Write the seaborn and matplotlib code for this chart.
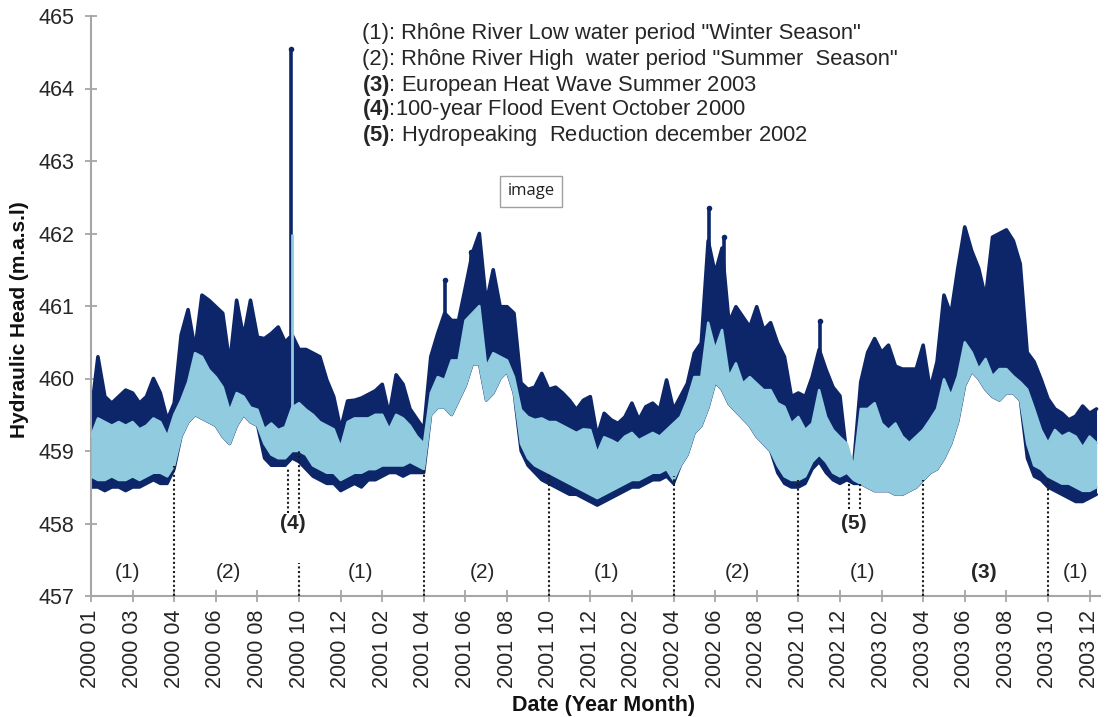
import numpy as np
import pandas as pd
import matplotlib
matplotlib.use("Agg")
import matplotlib.pyplot as plt
import seaborn as sns

# ---------------- data ----------------
start_date = "2000-01-01"
sample_step_days = 10          # envelope sampled every 10 days

# upper envelope of the dark (navy) series
dark_hi = [459.5, 460.3, 459.75, 459.66, 459.75, 459.84, 459.8, 459.66, 459.75, 460.0,
           459.8, 459.43, 459.66, 460.6, 460.95, 460.4, 461.15, 461.08, 460.99, 460.9,
           460.2, 461.08, 460.57, 461.08, 460.57, 460.55, 460.62, 460.71, 460.5, 460.6,
           460.4, 460.4, 460.35, 460.3, 459.98, 459.75, 459.3, 459.69, 459.7, 459.73,
           459.78, 459.83, 459.92, 459.5, 460.05, 459.92, 459.58, 459.44, 459.3, 460.3,
           460.62, 460.9, 460.8, 460.8, 461.26, 461.73, 462.0, 461.04, 461.5, 460.99,
           460.99, 460.9, 459.94, 459.85, 459.88, 460.07, 459.85, 459.88, 459.8, 459.7,
           459.57, 459.7, 459.75, 459.2, 459.52, 459.43, 459.38, 459.47, 459.66, 459.43,
           459.61, 459.66, 459.57, 459.98, 459.57, 459.75, 459.93, 460.35, 460.49, 461.9,
           461.45, 461.8, 460.77, 460.99, 460.85, 460.71, 460.99, 460.67, 460.77, 460.49,
           460.3, 459.75, 459.8, 459.75, 460.02, 460.4, 460.12, 459.88, 459.76, 458.92,
           458.83, 459.95, 460.36, 460.55, 460.36, 460.46, 460.17, 460.13, 460.13, 460.13,
           460.46, 459.85, 460.23, 461.15, 460.88, 461.52, 462.09, 461.76, 461.52, 461.11,
           461.95, 462.0, 462.05, 461.9, 461.58, 460.36, 460.23, 459.99, 459.72, 459.58,
           459.52, 459.43, 459.48, 459.62, 459.52, 459.58]

# lower envelope of the dark (navy) series
dark_lo = [458.5, 458.5, 458.45, 458.5, 458.5, 458.45, 458.5, 458.5, 458.55, 458.6,
           458.55, 458.55, 458.75, 459.2, 459.4, 459.5, 459.45, 459.4, 459.35, 459.2,
           459.1, 459.35, 459.5, 459.4, 459.35, 458.9, 458.8, 458.8, 458.8, 458.9,
           458.85, 458.75, 458.65, 458.6, 458.55, 458.55, 458.45, 458.5, 458.55, 458.5,
           458.6, 458.6, 458.65, 458.7, 458.7, 458.65, 458.7, 458.7, 458.7, 459.5,
           459.6, 459.6, 459.5, 459.7, 459.9, 460.2, 460.2, 459.7, 459.8, 460.0,
           460.1, 459.8, 459.0, 458.8, 458.7, 458.6, 458.55, 458.5, 458.45, 458.4,
           458.4, 458.35, 458.3, 458.25, 458.3, 458.35, 458.4, 458.45, 458.5, 458.5,
           458.55, 458.6, 458.6, 458.65, 458.55, 458.8, 458.95, 459.25, 459.35, 459.6,
           459.95, 459.85, 459.65, 459.55, 459.45, 459.35, 459.2, 459.1, 459.0, 458.7,
           458.55, 458.5, 458.5, 458.55, 458.75, 458.85, 458.7, 458.6, 458.55, 458.6,
           458.55, 458.55, 458.5, 458.45, 458.45, 458.45, 458.4, 458.4, 458.45, 458.5,
           458.6, 458.7, 458.75, 458.9, 459.1, 459.4, 459.9, 460.1, 460.0, 459.85,
           459.75, 459.7, 459.8, 459.8, 459.7, 458.9, 458.65, 458.6, 458.5, 458.45,
           458.4, 458.35, 458.3, 458.3, 458.35, 458.4]

# upper envelope of the light-blue series
light_hi = [459.2, 459.45, 459.4, 459.35, 459.4, 459.35, 459.4, 459.3, 459.35, 459.45,
            459.4, 459.2, 459.5, 459.7, 459.95, 460.35, 460.3, 460.12, 460.02, 459.88,
            459.55, 459.8, 459.75, 459.6, 459.57, 459.3, 459.38, 459.29, 459.33, 459.6,
            459.66, 459.57, 459.5, 459.4, 459.35, 459.3, 459.05, 459.4, 459.45, 459.45,
            459.45, 459.5, 459.5, 459.3, 459.5, 459.45, 459.35, 459.2, 459.1, 459.8,
            460.02, 459.98, 460.25, 460.25, 460.8, 460.9, 461.0, 460.16, 460.35, 460.3,
            460.25, 460.02, 459.57, 459.47, 459.43, 459.45, 459.4, 459.4, 459.35, 459.3,
            459.25, 459.3, 459.29, 458.97, 459.19, 459.15, 459.1, 459.2, 459.25, 459.15,
            459.2, 459.25, 459.2, 459.29, 459.38, 459.47, 459.7, 460.02, 460.02, 460.77,
            460.4, 460.67, 460.02, 460.21, 459.93, 460.02, 459.93, 459.84, 459.84, 459.66,
            459.61, 459.38, 459.47, 459.29, 459.38, 459.84, 459.47, 459.29, 459.19, 459.1,
            458.78, 459.58, 459.58, 459.66, 459.38, 459.29, 459.38, 459.2, 459.11, 459.2,
            459.29, 459.43, 459.58, 459.99, 459.76, 460.03, 460.5, 460.36, 460.13, 460.27,
            460.03, 460.13, 460.13, 460.03, 459.95, 459.85, 459.58, 459.29, 459.11, 459.29,
            459.2, 459.25, 459.2, 459.05, 459.2, 459.11]

# lower envelope of the light-blue series
light_lo = [458.65, 458.6, 458.6, 458.65, 458.6, 458.6, 458.65, 458.6, 458.65, 458.7,
            458.7, 458.65, 458.8, 459.2, 459.4, 459.5, 459.45, 459.4, 459.35, 459.2,
            459.1, 459.35, 459.5, 459.4, 459.35, 459.1, 458.95, 458.9, 458.9, 459.0,
            459.0, 458.95, 458.8, 458.75, 458.7, 458.7, 458.6, 458.65, 458.7, 458.7,
            458.75, 458.75, 458.8, 458.8, 458.8, 458.8, 458.85, 458.8, 458.75, 459.5,
            459.6, 459.6, 459.5, 459.7, 459.9, 460.2, 460.2, 459.7, 459.8, 460.0,
            460.1, 459.8, 459.1, 458.9, 458.8, 458.75, 458.7, 458.65, 458.6, 458.55,
            458.5, 458.45, 458.4, 458.35, 458.4, 458.45, 458.5, 458.55, 458.6, 458.6,
            458.65, 458.7, 458.7, 458.75, 458.6, 458.8, 458.95, 459.25, 459.35, 459.6,
            459.95, 459.85, 459.65, 459.55, 459.45, 459.35, 459.2, 459.1, 459.0, 458.8,
            458.65, 458.6, 458.6, 458.65, 458.85, 458.95, 458.85, 458.7, 458.65, 458.7,
            458.6, 458.55, 458.5, 458.45, 458.45, 458.45, 458.4, 458.4, 458.45, 458.5,
            458.6, 458.7, 458.75, 458.9, 459.1, 459.4, 459.9, 460.1, 460.0, 459.85,
            459.75, 459.7, 459.8, 459.8, 459.7, 459.1, 458.8, 458.75, 458.65, 458.6,
            458.55, 458.55, 458.5, 458.45, 458.45, 458.5]

# narrow peaks of the dark series (day offset from start, top value)
peak_days = [289, 511, 548, 556, 891, 913, 1051]
peak_tops = [464.55, 461.36, 461.75, 461.85, 462.35, 461.95, 460.8]
peak_bases = [460.6, 460.9, 461.2, 461.5, 461.6, 461.4, 460.3]
# narrow peak of the light series (flood)
light_peak_days = [290]
light_peak_tops = [462.0]
light_peak_bases = [459.6]

# x tick labels (ticks every 60 days)
tick_step_days = 60
tick_labels = ["2000 01", "2000 03", "2000 04", "2000 06", "2000 08", "2000 10",
               "2000 12", "2001 02", "2001 04", "2001 06", "2001 08", "2001 10",
               "2001 12", "2002 02", "2002 04", "2002 06", "2002 08", "2002 10",
               "2002 12", "2003 02", "2003 04", "2003 06", "2003 08", "2003 10",
               "2003 12"]

# period labels
period_texts = ["(1)", "(2)", "(1)", "(2)", "(1)", "(2)", "(1)", "(3)", "(1)"]
period_days = [53, 198, 388, 564, 744, 932, 1112, 1288, 1419]
period_bold = [False, False, False, False, False, False, False, True, False]
event_texts = ["(4)", "(5)"]
event_days = [291, 1100]

# dotted separators: (day, bottom, top)
sep_days = [120, 284, 300, 300, 480, 660, 840, 1020, 1093, 1109, 1200, 1380]
sep_bottoms = [457.0, 458.15, 458.15, 457.0, 457.0, 457.0, 457.0, 457.0, 458.2, 458.2, 457.0, 457.0]
sep_tops = [458.8, 458.75, 459.0, 457.45, 458.75, 458.7, 458.65, 458.6, 458.55, 458.55, 458.6, 458.6]

legend_lines = [
    ("", '(1): Rhône River Low water period "Winter Season"'),
    ("", '(2): Rhône River High  water period "Summer  Season"'),
    ("(3)", ": European Heat Wave Summer 2003"),
    ("(4)", ":100-year Flood Event October 2000"),
    ("(5)", ": Hydropeaking  Reduction december 2002"),
]

# ---------------- styling ----------------
sns.set_theme(style="white")
plt.rcParams["font.family"] = ["Liberation Sans", "DejaVu Sans"]
plt.rcParams["mathtext.fontset"] = "custom"
plt.rcParams["mathtext.rm"] = "Liberation Sans"
plt.rcParams["mathtext.bf"] = "Liberation Sans:bold"

DARK = "#0c2669"
LIGHT = "#90cbdf"
AXC = "#a6a6a6"
TXT = "#262626"

days = np.arange(len(dark_hi)) * sample_step_days
df = pd.DataFrame({"day": days, "dark_hi": dark_hi, "dark_lo": dark_lo,
                   "light_hi": light_hi, "light_lo": light_lo})

W, H = 1105, 717
fig = plt.figure(figsize=(W / 100, H / 100), dpi=100)
ax = fig.add_axes([91 / W, 1 - 596 / H, 1009 / W, 580 / H])

# dark band
ax.fill_between(df["day"], df["dark_lo"], df["dark_hi"], color=DARK, lw=0, zorder=2)
sns.lineplot(data=df, x="day", y="dark_hi", color=DARK, lw=2.6, ax=ax, zorder=2)
sns.lineplot(data=df, x="day", y="dark_lo", color=DARK, lw=2.2, ax=ax, zorder=2)
ax.vlines(peak_days, peak_bases, peak_tops, color=DARK, lw=2.6, zorder=2)
sns.scatterplot(x=peak_days, y=peak_tops, color=DARK, s=16, lw=0, ax=ax, zorder=2)

# light band
ax.fill_between(df["day"], df["light_lo"], df["light_hi"], color=LIGHT, lw=0, zorder=3)
sns.lineplot(data=df, x="day", y="light_hi", color=LIGHT, lw=1.8, ax=ax, zorder=3)
sns.lineplot(data=df, x="day", y="light_lo", color=LIGHT, lw=1.8, ax=ax, zorder=3)
ax.vlines(light_peak_days, light_peak_bases, light_peak_tops, color=LIGHT, lw=2, zorder=3)

# dotted separators
ax.vlines(sep_days, sep_bottoms, sep_tops, color="#1a1a1a", lw=1.5,
          linestyles=(0, (1, 1.2)), zorder=4)

# period labels
for t, d, b in zip(period_texts, period_days, period_bold):
    ax.text(d, 457.32, t, ha="center", va="center", fontsize=15,
            fontweight="bold" if b else "normal", color=TXT, zorder=5)
for t, d in zip(event_texts, event_days):
    ax.text(d, 458.0, t, ha="center", va="center", fontsize=15,
            fontweight="bold", color=TXT, zorder=5)

# legend-like text block
ys = [34, 60, 85, 110, 135]
for (b, rest), y in zip(legend_lines, ys):
    s = (r"$\mathbf{" + b + "}$" + rest) if b else rest
    fig.text(362 / W, 1 - y / H, s, ha="left", va="center", fontsize=15.8, color=TXT)

# "image" box
fig.text(531 / W, 1 - 191 / H, "image", ha="center", va="center", fontsize=12,
         family=["Open Sans", "DejaVu Sans"], color="#222222",
         bbox=dict(boxstyle="square,pad=0.45", fc="white", ec="#a0a0a0", lw=1))

# axes
ax.set_xlim(0, 1455)
ax.set_ylim(457, 465)
ax.set_yticks(range(457, 466))
ticks = np.arange(len(tick_labels)) * tick_step_days
ax.set_xticks(ticks)
ax.set_xticklabels(tick_labels, rotation=90, fontsize=15.5, color=TXT)
ax.tick_params(axis="y", labelsize=15.5, labelcolor=TXT)
ax.tick_params(axis="both", direction="inout", length=8, width=1.3, color=AXC,
               left=True, bottom=True)
ax.tick_params(axis="y", pad=8)
ax.tick_params(axis="x", pad=6)
for side in ["top", "right"]:
    ax.spines[side].set_visible(False)
for side in ["left", "bottom"]:
    ax.spines[side].set_color(AXC)
    ax.spines[side].set_linewidth(1.5)
ax.set_xlabel("")
ax.set_ylabel("")
ax.grid(False)

fig.text(20 / W, 1 - 320 / H, "Hydraulic Head (m.a.s.l)", rotation=90, ha="center",
         va="center", fontsize=15, fontweight="bold", color="#111111")
fig.text(604 / W, 1 - 706 / H, "Date (Year Month)", ha="center", va="center",
         fontsize=15.5, fontweight="bold", color="#111111")

fig.savefig("out.png", dpi=100, facecolor="white")
